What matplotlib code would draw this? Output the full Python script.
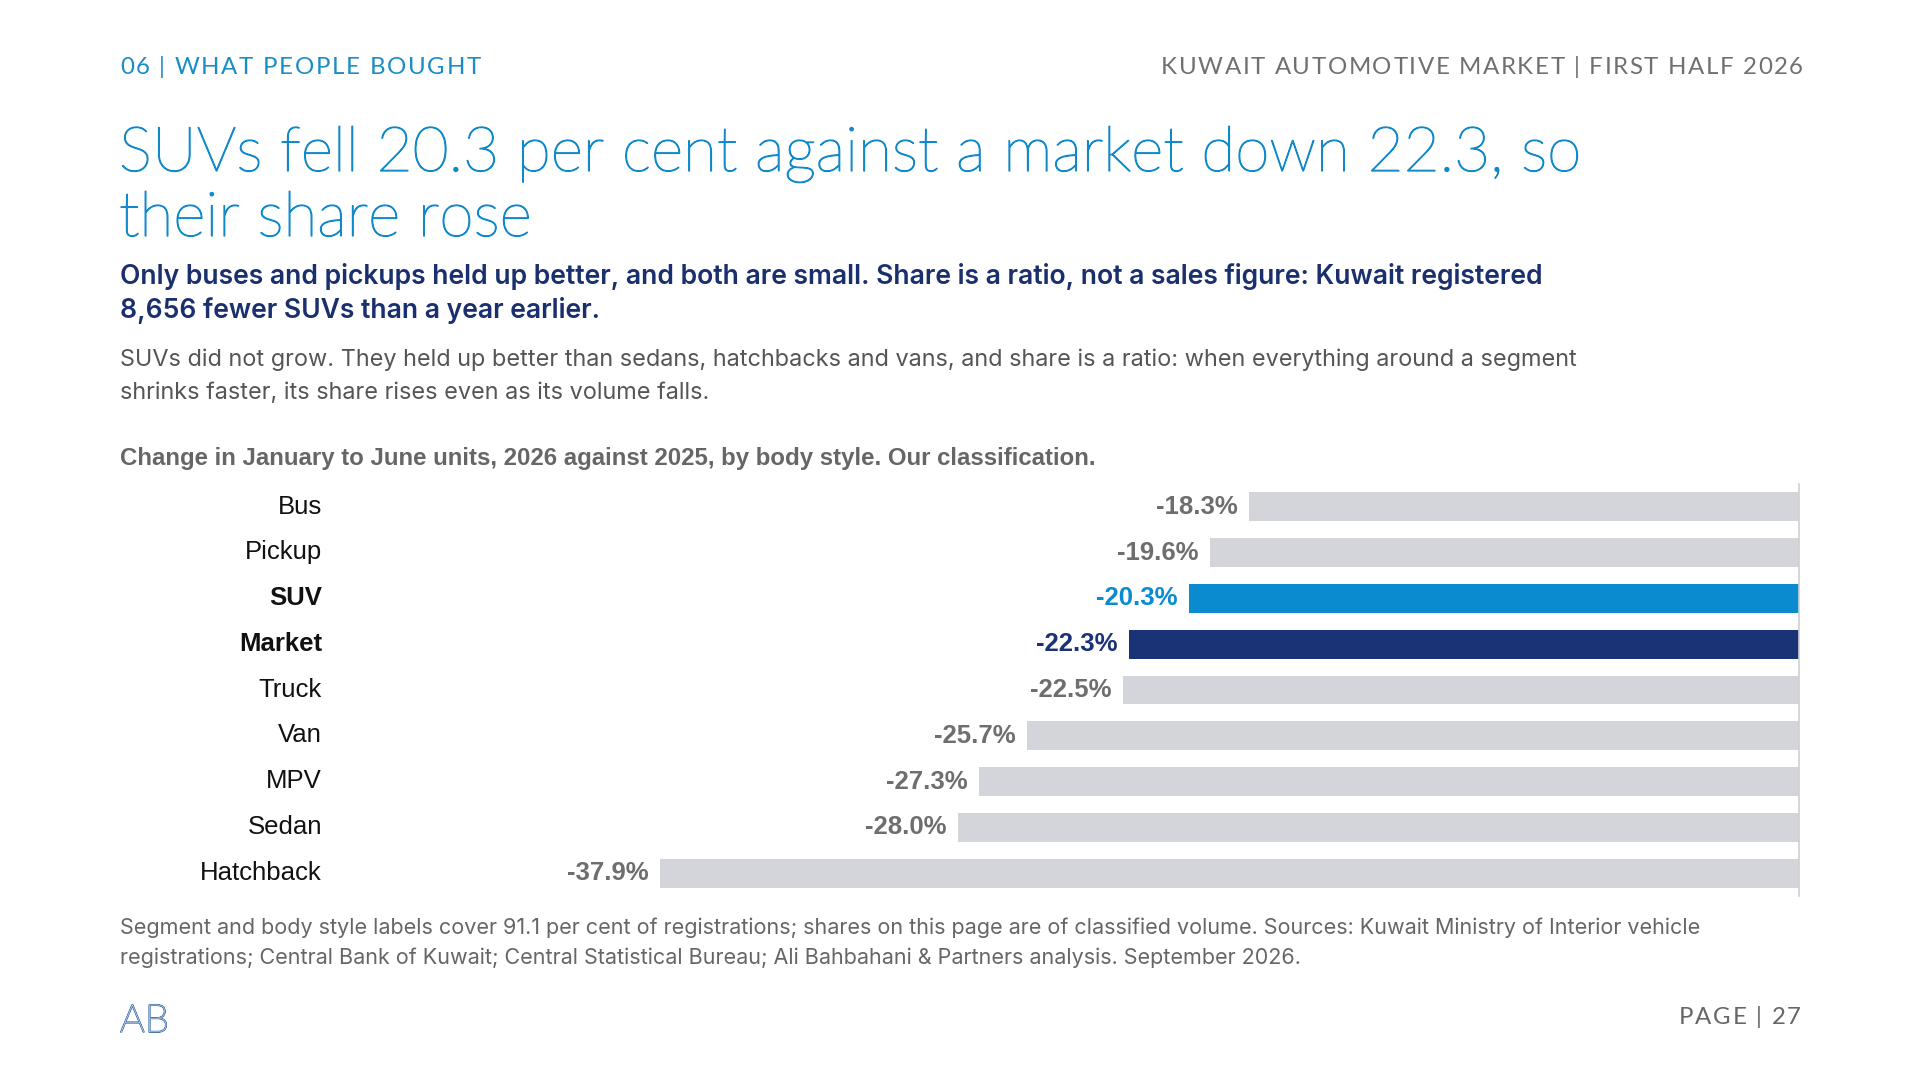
import matplotlib
matplotlib.use("Agg")
import matplotlib.pyplot as plt
import matplotlib.patheffects as pe
import matplotlib.transforms as mtransforms

# datos del grafico
categorias = ["Bus", "Pickup", "SUV", "Market", "Truck", "Van", "MPV", "Sedan", "Hatchback"]
cambios = [-18.3, -19.6, -20.3, -22.3, -22.5, -25.7, -27.3, -28.0, -37.9]
destacados = {"SUV": "#0a8bd0", "Market": "#1a3276"}

W, H = 1920, 1080
fig = plt.figure(figsize=(W / 100, H / 100), dpi=100)
fig.patch.set_facecolor("white")
renderer = fig.canvas.get_renderer()

SANS = ["Inter", "DejaVu Sans"]
LATO = ["Lato", "DejaVu Sans"]
ARIAL = ["Liberation Sans", "DejaVu Sans"]

def txt(x, y, s, **kw):
    # posicion en pixeles desde arriba a la izquierda
    return fig.text(x / W, 1 - y / H, s, **kw)

def espaciado(x, y, s, track=2.0, ha="left", **kw):
    # texto con espacio entre letras, dibujado letra por letra
    anchos = []
    for ch in s:
        t = txt(0, 0, ch, **kw)
        anchos.append(t.get_window_extent(renderer).width if ch != " " else None)
        t.remove()
    sp = txt(0, 0, "a a", **kw)
    aa = txt(0, 0, "aa", **kw)
    w_sp = sp.get_window_extent(renderer).width - aa.get_window_extent(renderer).width
    sp.remove(); aa.remove()
    anchos = [a if a is not None else w_sp for a in anchos]
    total = sum(anchos) + track * (len(s) - 1)
    cx = x - total if ha == "right" else x
    for ch, a in zip(s, anchos):
        if ch != " ":
            txt(cx, y, ch, **kw)
        cx += a + track

# encabezado
espaciado(120, 67, "06 | WHAT PEOPLE BOUGHT", track=1.7, family=LATO, fontsize=17.3,
          color="#1a8cc8", va="center")
espaciado(1803, 67, "KUWAIT AUTOMOTIVE MARKET | FIRST HALF 2026", track=1.6, ha="right",
          family=LATO, fontsize=17.3, color="#707070", va="center")

# titulo (light con un trazo fino para acercarse al peso original)
grosor = [pe.withStroke(linewidth=0.9, foreground="#1089cb")]
t1 = txt(119, 154, "SUVs fell 20.3 per cent against a market down 22.3, so", family=LATO,
         fontsize=44.8, color="#1089cb", va="center", fontweight="light")
t2 = txt(119, 219, "their share rose", family=LATO, fontsize=44.8, color="#1089cb", va="center",
         fontweight="light")
t1.set_path_effects(grosor)
t2.set_path_effects(grosor)

# subtitulo
txt(120, 276, "Only buses and pickups held up better, and both are small. Share is a ratio, not a sales figure: Kuwait registered",
    family=SANS, fontsize=19.1, color="#1a2f6e", va="center", fontweight="semibold")
txt(120, 311, "8,656 fewer SUVs than a year earlier.", family=SANS, fontsize=19.1, color="#1a2f6e",
    va="center", fontweight="semibold")

# texto
txt(120, 360, "SUVs did not grow. They held up better than sedans, hatchbacks and vans, and share is a ratio: when everything around a segment",
    family=SANS, fontsize=16.9, color="#555555", va="center")
txt(120, 393, "shrinks faster, its share rises even as its volume falls.", family=SANS, fontsize=16.9,
    color="#555555", va="center")

txt(120, 458, "Change in January to June units, 2026 against 2025, by body style. Our classification.",
    family=ARIAL, fontsize=17.3, color="#666666", va="center", fontweight="bold")

# grafico de barras
ax = fig.add_axes([340 / W, 1 - 896 / H, (1799 - 340) / W, (896 - 484) / H])
y = list(range(len(categorias)))
colores = [destacados.get(c, "#d4d5da") for c in categorias]
ax.barh(y, cambios, height=0.63, color=colores)
ax.set_xlim(-(1799 - 340) / 30.05, 0)
ax.set_ylim(len(categorias) - 0.5, -0.5)
ax.axvline(0, color="#cfcfcf", lw=1.2, clip_on=False)

for sp in ax.spines.values():
    sp.set_visible(False)
ax.set_xticks([])
ax.set_yticks(y)
ax.set_yticklabels(categorias, family=ARIAL, fontsize=18.5, color="#111111")
ax.tick_params(axis="y", length=0, pad=13)
subir = mtransforms.ScaledTranslation(0, 2 / 72, fig.dpi_scale_trans)
for lab in ax.get_yticklabels():
    lab.set_transform(lab.get_transform() + subir)
    if lab.get_text() in destacados:
        lab.set_fontweight("bold")

for i, (c, v) in enumerate(zip(categorias, cambios)):
    ax.annotate(f"{v:.1f}%", (v, i), xytext=(-8, 0), textcoords="offset points",
                ha="right", va="center", family=ARIAL, fontsize=18.5, fontweight="bold",
                color=destacados.get(c, "#6e6e6e"))

# nota
txt(120, 928, "Segment and body style labels cover 91.1 per cent of registrations; shares on this page are of classified volume. Sources: Kuwait Ministry of Interior vehicle",
    family=SANS, fontsize=15.5, color="#666666", va="center")
txt(120, 958, "registrations; Central Bank of Kuwait; Central Statistical Bureau; Ali Bahbahani & Partners analysis. September 2026.",
    family=SANS, fontsize=15.5, color="#666666", va="center")

# pie de pagina
logo = txt(120, 1021, "AB", family=LATO, fontsize=28, color="white", va="center", fontweight="light")
logo.set_path_effects([pe.withStroke(linewidth=1.2, foreground="#4a78b0")])
espaciado(1801, 1017, "PAGE | 27", track=1.7, ha="right", family=LATO, fontsize=17.3,
          color="#666666", va="center")

fig.savefig("out.png", dpi=100)
